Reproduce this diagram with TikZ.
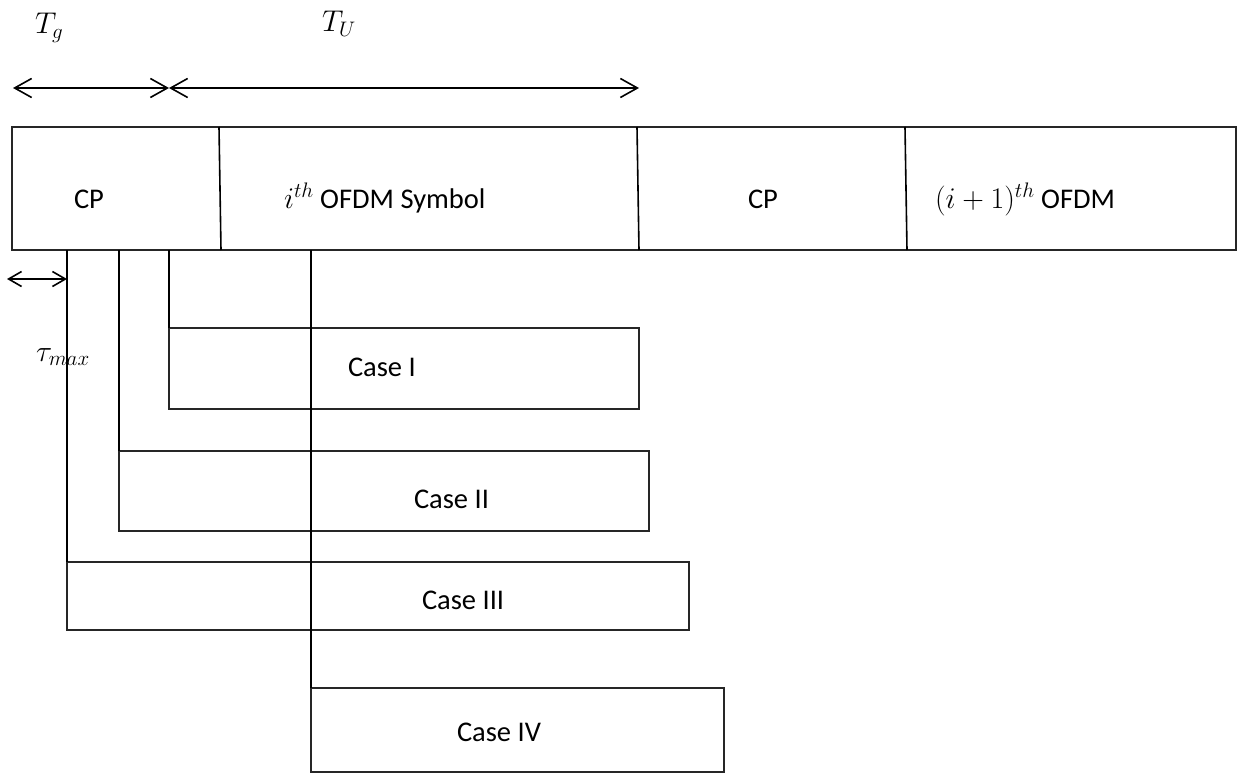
\RequirePackage{fix-cm}
\documentclass[tikz,border=0pt]{standalone}
\usepackage{fontspec}
\setmainfont{Carlito}
\usetikzlibrary{arrows.meta}
\newcommand{\mth}[1]{{\fontsize{30}{36}\selectfont$#1$}}
\begin{document}
\begin{tikzpicture}[x=1pt,y=-1pt,
  every node/.style={font=\fontsize{28.5}{34}\selectfont, inner sep=0pt, outer sep=0pt},
  box/.style={draw=black!85, line width=1.4pt, rectangle},
  divider/.style={draw=black, line width=1.6pt},
  vline/.style={draw=black, line width=1.9pt},
  dimarrow/.style={line width=1.6pt, {Straight Barb[length=17pt,width=19pt,line width=1.6pt]}-{Straight Barb[length=17pt,width=19pt,line width=1.6pt]}},
  tauarrow/.style={line width=1.6pt, {Straight Barb[length=13pt,width=15pt,line width=1.6pt]}-{Straight Barb[length=13pt,width=15pt,line width=1.6pt]}},
  lbl/.style={anchor=base west}
]
\path[use as bounding box] (0,0) rectangle (1251,776);

% frame bar
\node[box, minimum width=1224pt, minimum height=123pt] (bar) at (624,188.5) {};
\coordinate (d1t) at (219,127); \coordinate (d1b) at (221,250);
\coordinate (d2t) at (637,127); \coordinate (d2b) at (639,250);
\coordinate (d3t) at (905,127); \coordinate (d3b) at (907,250);
\draw[divider] (d1t) -- (d1b);
\draw[divider] (d2t) -- (d2b);
\draw[divider] (d3t) -- (d3b);

\node[lbl] (cp1) at (74,208) {CP};
\node[lbl] (sym) at (284,208) {\mth{i^{th}} OFDM Symbol};
\node[lbl] (cp2) at (748,208) {CP};
\node[lbl] (sym2) at (935,208) {\mth{(i+1)^{th}} OFDM};

% duration arrows
\coordinate (a0) at (13,88);
\coordinate (a1) at (169,88);
\coordinate (a2) at (639,88);
\draw[dimarrow] (a0) -- (a1);
\draw[dimarrow] (a1) -- (a2);
\node[lbl] (tg) at (35,34) {\mth{T_g}};
\node[lbl] (tu) at (322,32) {\mth{T_U}};

% case boxes
\node[box, minimum width=470pt, minimum height=81pt] (c1) at (404,368.5) {};
\node[box, minimum width=530pt, minimum height=80pt] (c2) at (384,491) {};
\node[box, minimum width=622pt, minimum height=68pt] (c3) at (378,596) {};
\node[box, minimum width=413pt, minimum height=84pt] (c4) at (517.5,730) {};

\node[lbl] (l1) at (348,376) {Case I};
\node[lbl] (l2) at (414,508) {Case II};
\node[lbl] (l3) at (422,609) {Case III};
\node[lbl] (l4) at (457,741) {Case IV};

% delay lines
\coordinate (s3) at (67,250);
\coordinate (s2) at (119,250);
\coordinate (s1) at (169,250);
\coordinate (s4) at (311,250);
\draw[vline] (s3) -- (c3.north west);
\draw[vline] (s2) -- (c2.north west);
\draw[vline] (s1) -- (c1.north west);
\draw[vline] (s4) -- (c4.north west);

% tau max
\coordinate (t0) at (7,279);
\coordinate (t1) at (67,279);
\draw[tauarrow] (t0) -- (t1);
\node[lbl] (tau) at (36,361) {\mth{\tau_{max}}};
\end{tikzpicture}
\end{document}
